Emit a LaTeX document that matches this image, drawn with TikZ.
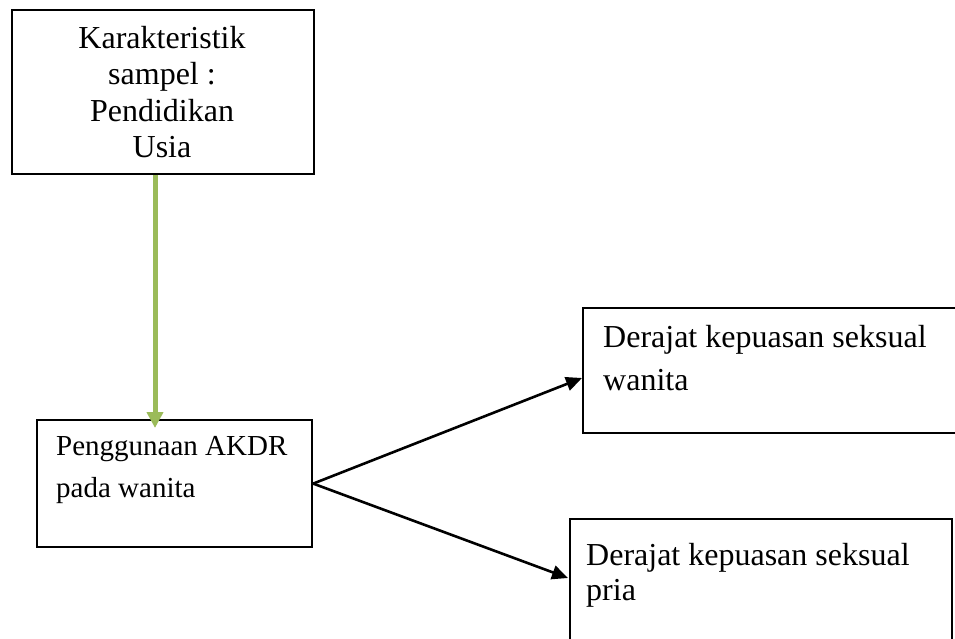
\documentclass[tikz,border=0pt]{standalone}
\usepackage{fontspec}
\setmainfont{Liberation Serif}
\usetikzlibrary{arrows.meta}
\definecolor{olivegreen}{RGB}{155,187,89}
\tikzset{
  box/.style={draw,line width=2.2pt,inner sep=0pt,anchor=north west},
  txt/.style={inner sep=0pt},
  link/.style={line width=2.6pt,-{Triangle[length=16pt,width=14pt]}},
  greenlink/.style={olivegreen,line width=5pt,-{Triangle[length=16pt,width=16pt]}}
}
\begin{document}
\begin{tikzpicture}[x=1pt,y=-1pt]
      \useasboundingbox (0,0) rectangle (955,639);
      % boxes
      \node[box,minimum width=302pt,minimum height=164pt] (sampel) at (11,9) {};
      \node[box,minimum width=275pt,minimum height=127pt] (akdr) at (36,419) {};
      \node[box,minimum width=390pt,minimum height=125pt] (wanita) at (582,307) {};
      \node[box,minimum width=382pt,minimum height=140pt] (pria) at (569,518) {};
      % texts
      \node[txt,anchor=north,align=center,font=\fontsize{32}{36.5}\selectfont]
        (sampeltxt) at (162,26) {Karakteristik\\sampel :\\Pendidikan\\Usia};
      \node[txt,anchor=north west,align=left,font=\fontsize{29}{42}\selectfont]
        (akdrtxt) at (56,436) {Penggunaan AKDR\\pada wanita};
      \node[txt,anchor=north west,align=left,font=\fontsize{32}{43}\selectfont]
        (wanitatxt) at (603,325) {Derajat kepuasan seksual\\wanita};
      \node[txt,anchor=north west,align=left,font=\fontsize{32}{35}\selectfont]
        (priatxt) at (586,543) {Derajat kepuasan seksual\\pria};
      % arrow ends
      \coordinate (gtip) at (155,428);
      \coordinate (wtip) at (582,378);
      \coordinate (ptip) at (568,578);
      \begin{scope}
        \draw[greenlink] (sampel.south -| gtip) -- (gtip);
        \draw[link] (akdr.east) -- (wtip);
        \draw[link] (akdr.east) -- (ptip);
      \end{scope}
\end{tikzpicture}
\end{document}
